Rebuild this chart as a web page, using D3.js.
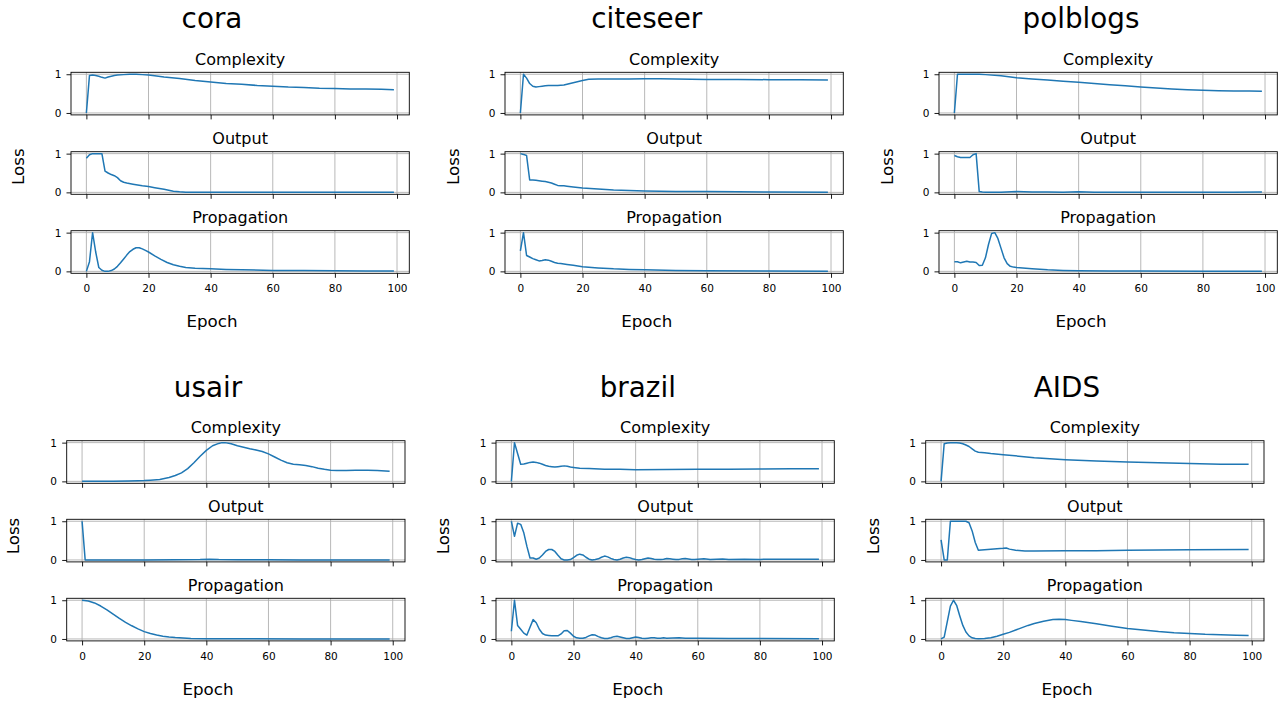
<!DOCTYPE html>
<html><head><meta charset="utf-8">
<script src="https://cdn.jsdelivr.net/npm/d3@7"></script>
<style>
body{margin:0;background:#fff}
svg{display:block;font-family:"DejaVu Sans",sans-serif}
</style>
</head><body>
<svg id="chart" width="1284" height="704"></svg>
<script>
// ---------- data ----------
const datasets = ["cora", "citeseer", "polblogs", "usair", "brazil", "AIDS"];
const panels = ["Complexity", "Output", "Propagation"];
const xTicks = [0, 20, 40, 60, 80, 100];
const yTicks = [0, 1];
const xLabel = "Epoch";
const yLabel = "Loss";

// each series: [epoch, normalised loss]
const coraComplexity = [[0,0],[1,0.97],[2,0.98],[3,0.97],[4,0.95],[5,0.92],[6,0.9],[7,0.93],[8,0.95],[9,0.97],[10,0.98],[12,0.99],[14,1.0],[16,1.0],[18,0.99],[20,0.98],[22,0.96],[25,0.93],[30,0.89],[35,0.84],[40,0.8],[45,0.76],[50,0.74],[55,0.71],[60,0.69],[65,0.67],[70,0.66],[75,0.64],[80,0.63],[85,0.62],[90,0.62],[95,0.61],[99,0.6]];
const coraOutput = [[0,0.88],[1,0.97],[2,1.0],[3,1.0],[4,1.0],[5,1.0],[6,0.55],[7,0.5],[8,0.46],[9,0.43],[10,0.38],[11,0.3],[12,0.26],[13,0.24],[15,0.21],[18,0.17],[20,0.15],[22,0.12],[25,0.08],[28,0.03],[30,0.015],[32,0.005],[35,0],[40,0],[50,0.003],[60,0.005],[70,0.003],[80,0.006],[90,0.003],[99,0.003]];
const coraPropagation = [[0,0],[1,0.25],[2,1.0],[3,0.5],[4,0.1],[5,0.03],[6,0.0],[7,0.0],[8,0.02],[9,0.06],[10,0.13],[11,0.22],[12,0.32],[13,0.42],[14,0.51],[15,0.57],[16,0.61],[17,0.61],[18,0.58],[19,0.54],[20,0.5],[22,0.4],[24,0.31],[26,0.23],[28,0.17],[30,0.13],[32,0.1],[35,0.08],[40,0.065],[45,0.05],[50,0.04],[60,0.025],[70,0.02],[80,0.015],[90,0.012],[99,0.01]];

const citeseerComplexity = [[0,0],[1,1.0],[2,0.9],[3,0.76],[4,0.69],[5,0.67],[6,0.68],[7,0.69],[8,0.7],[9,0.71],[10,0.71],[12,0.71],[14,0.72],[16,0.76],[18,0.8],[20,0.84],[22,0.87],[25,0.88],[30,0.875],[35,0.875],[40,0.885],[45,0.885],[50,0.88],[60,0.865],[70,0.865],[80,0.86],[90,0.855],[99,0.85]];
const citeseerOutput = [[0,1.0],[1,0.98],[2,0.95],[3,0.32],[4,0.32],[5,0.31],[6,0.3],[7,0.29],[8,0.28],[9,0.26],[10,0.24],[11,0.21],[12,0.18],[13,0.17],[14,0.17],[15,0.16],[17,0.14],[20,0.115],[25,0.085],[30,0.06],[35,0.045],[40,0.035],[50,0.025],[60,0.02],[70,0.015],[80,0.01],[99,0.005]];
const citeseerPropagation = [[0,0.53],[1,1.0],[2,0.41],[3,0.37],[4,0.33],[5,0.3],[6,0.27],[7,0.28],[8,0.3],[9,0.29],[10,0.26],[11,0.23],[12,0.21],[13,0.2],[15,0.18],[17,0.16],[20,0.12],[25,0.09],[30,0.065],[35,0.05],[40,0.04],[50,0.025],[60,0.015],[80,0.01],[99,0.005]];

const polblogsComplexity = [[0,0],[1,1.0],[3,1.0],[5,1.0],[8,1.0],[10,0.99],[15,0.96],[20,0.91],[25,0.88],[30,0.85],[35,0.82],[40,0.79],[45,0.76],[50,0.73],[55,0.7],[60,0.67],[65,0.645],[70,0.62],[75,0.6],[80,0.585],[85,0.575],[90,0.57],[95,0.565],[99,0.56]];
const polblogsOutput = [[0,0.95],[1,0.92],[2,0.9],[3,0.9],[4,0.9],[5,0.9],[6,0.97],[7,1.0],[8,0.02],[9,0.01],[10,0.005],[15,0.005],[20,0.02],[25,0.01],[30,0.01],[35,0.005],[40,0.015],[45,0.005],[50,0.005],[60,0.003],[70,0.005],[80,0.003],[90,0.005],[99,0.01]];
const polblogsPropagation = [[0,0.25],[1,0.25],[2,0.22],[3,0.24],[4,0.26],[5,0.24],[6,0.24],[7,0.23],[8,0.15],[9,0.16],[10,0.35],[11,0.7],[12,0.98],[13,1.0],[14,0.85],[15,0.6],[16,0.35],[17,0.2],[18,0.13],[19,0.11],[20,0.1],[25,0.07],[30,0.04],[35,0.025],[40,0.015],[50,0.01],[60,0.008],[80,0.006],[99,0.005]];

const usairComplexity = [[0,0],[5,0],[10,0.002],[15,0.008],[18,0.015],[20,0.02],[22,0.03],[25,0.05],[28,0.1],[30,0.15],[32,0.22],[34,0.33],[36,0.48],[38,0.65],[40,0.8],[42,0.92],[44,0.98],[45,1.0],[46,1.0],[48,0.97],[50,0.92],[52,0.88],[54,0.84],[56,0.81],[58,0.77],[60,0.71],[62,0.63],[64,0.55],[66,0.48],[68,0.44],[70,0.43],[72,0.41],[74,0.38],[76,0.34],[78,0.31],[80,0.29],[82,0.28],[85,0.28],[88,0.29],[90,0.29],[92,0.29],[95,0.28],[99,0.26]];
const usairOutput = [[0,1.0],[1,0.0],[10,0.0],[20,0.0],[30,0.003],[38,0.01],[41,0.02],[44,0.01],[50,0.005],[60,0.003],[70,0.002],[80,0.002],[90,0.001],[99,0.001]];
const usairPropagation = [[0,1.0],[2,0.98],[4,0.93],[6,0.85],[8,0.75],[10,0.64],[12,0.53],[14,0.43],[16,0.34],[18,0.26],[20,0.19],[22,0.14],[24,0.1],[26,0.07],[28,0.05],[30,0.035],[35,0.015],[40,0.008],[50,0.004],[70,0.002],[99,0.0]];

const brazilComplexity = [[0,0],[1,1.0],[2,0.72],[3,0.44],[4,0.45],[5,0.47],[6,0.49],[7,0.5],[8,0.49],[9,0.47],[10,0.44],[11,0.41],[12,0.39],[13,0.38],[14,0.37],[15,0.38],[16,0.39],[17,0.4],[18,0.39],[19,0.37],[20,0.36],[22,0.34],[25,0.33],[30,0.31],[35,0.31],[40,0.3],[50,0.305],[60,0.31],[70,0.315],[80,0.32],[90,0.325],[99,0.325]];
const brazilOutput = [[0,1.0],[1,0.61],[2,0.95],[3,0.92],[4,0.7],[5,0.35],[6,0.05],[7,0.05],[8,0.02],[9,0.05],[10,0.13],[11,0.22],[12,0.27],[13,0.27],[14,0.22],[15,0.12],[16,0.03],[17,0.0],[18,0.0],[19,0.01],[20,0.06],[21,0.12],[22,0.15],[23,0.13],[24,0.07],[25,0.02],[26,0.0],[27,0.01],[28,0.03],[29,0.07],[30,0.1],[31,0.08],[32,0.04],[33,0.01],[34,0.0],[35,0.02],[36,0.05],[37,0.07],[38,0.06],[39,0.03],[40,0.01],[41,0.0],[42,0.01],[43,0.03],[44,0.05],[45,0.04],[46,0.02],[47,0.01],[48,0.01],[49,0.02],[50,0.04],[51,0.03],[52,0.02],[53,0.01],[54,0.015],[55,0.03],[56,0.035],[57,0.025],[58,0.015],[59,0.01],[60,0.02],[62,0.03],[64,0.015],[66,0.02],[68,0.025],[70,0.015],[75,0.02],[80,0.015],[90,0.02],[99,0.02]];
const brazilPropagation = [[0,0.2],[1,1.0],[2,0.35],[3,0.25],[4,0.15],[5,0.1],[6,0.3],[7,0.5],[8,0.42],[9,0.25],[10,0.14],[11,0.1],[12,0.09],[13,0.08],[14,0.08],[15,0.08],[16,0.13],[17,0.21],[18,0.22],[19,0.15],[20,0.07],[21,0.03],[22,0.02],[23,0.02],[24,0.04],[25,0.08],[26,0.11],[27,0.1],[28,0.06],[29,0.03],[30,0.01],[31,0.01],[32,0.03],[33,0.06],[34,0.07],[35,0.05],[36,0.03],[37,0.01],[38,0.01],[39,0.03],[40,0.05],[41,0.04],[42,0.02],[43,0.01],[44,0.02],[45,0.03],[46,0.03],[47,0.02],[48,0.02],[49,0.03],[50,0.02],[52,0.025],[54,0.03],[56,0.02],[58,0.02],[60,0.02],[70,0.015],[80,0.01],[99,0.005]];

const aidsComplexity = [[0,0],[1,0.97],[2,0.99],[3,1.0],[4,1.0],[5,1.0],[6,0.99],[7,0.97],[8,0.94],[9,0.9],[10,0.84],[11,0.78],[12,0.75],[14,0.74],[16,0.72],[20,0.69],[25,0.65],[30,0.61],[35,0.585],[40,0.56],[50,0.525],[60,0.5],[70,0.48],[80,0.46],[90,0.445],[99,0.44]];
const aidsOutput = [[0,0.52],[1,0.0],[2,0.0],[3,1.0],[4,1.0],[5,1.0],[6,1.0],[7,1.0],[8,1.0],[9,0.96],[10,0.75],[11,0.45],[12,0.25],[13,0.26],[15,0.27],[18,0.29],[20,0.3],[21,0.31],[22,0.28],[24,0.25],[27,0.23],[30,0.23],[40,0.235],[50,0.24],[60,0.25],[70,0.26],[80,0.265],[99,0.27]];
const aidsPropagation = [[0,0.0],[1,0.05],[2,0.45],[3,0.85],[4,1.0],[5,0.87],[6,0.6],[7,0.35],[8,0.18],[9,0.08],[10,0.03],[11,0.01],[12,0.005],[14,0.01],[16,0.03],[18,0.07],[20,0.12],[22,0.17],[25,0.26],[28,0.35],[30,0.4],[33,0.46],[36,0.5],[38,0.51],[40,0.5],[42,0.48],[45,0.45],[50,0.39],[55,0.33],[60,0.27],[65,0.23],[70,0.19],[75,0.16],[80,0.14],[85,0.12],[90,0.11],[95,0.095],[99,0.09]];

const seriesByDataset = [
  [coraComplexity, coraOutput, coraPropagation],
  [citeseerComplexity, citeseerOutput, citeseerPropagation],
  [polblogsComplexity, polblogsOutput, polblogsPropagation],
  [usairComplexity, usairOutput, usairPropagation],
  [brazilComplexity, brazilOutput, brazilPropagation],
  [aidsComplexity, aidsOutput, aidsPropagation]
];

// ---------- layout ----------
const AX_W = 338.3, AX_H = 42.6;
const topRow = {tops:[72.3,151.7,230.7], lossY:166.7, titleY:28.3, epochY:327};
const botRow = {tops:[440.7,519.3,598.3], lossY:536, titleY:396.5, epochY:695};
const layout = [
  {left:71,    cx:212,   lossX:18.3,  row:topRow},
  {left:505,   cx:646.7, lossX:452.7, row:topRow},
  {left:939,   cx:1081,  lossX:886.7, row:topRow},
  {left:66.7,  cx:208,   lossX:13.3,  row:botRow},
  {left:496,   cx:637.8, lossX:443.3, row:botRow},
  {left:925.7, cx:1067,  lossX:873.3, row:botRow}
];
const LINE_COLOR = "#1f77b4";
const GRID_COLOR = "#b0b0b0";
const TICK_FONT = 10.5;

const svg = d3.select("#chart");

datasets.forEach((name, i) => {
  const L = layout[i];
  const R = L.row;
  const gGroup = svg.append("g");
  const x = d3.scaleLinear().domain([-4.95, 103.95]).range([L.left, L.left + AX_W]);

  // dataset title
  gGroup.append("text").attr("x", L.cx).attr("y", R.titleY)
    .attr("text-anchor", "middle").attr("font-size", 27.8).attr("fill", "#000").text(name);
  // x label
  gGroup.append("text").attr("x", L.cx).attr("y", R.epochY)
    .attr("text-anchor", "middle").attr("font-size", 16.7).attr("fill", "#000").text(xLabel);
  // y label
  gGroup.append("text")
    .attr("transform", `translate(${L.lossX + 6.1},${R.lossY}) rotate(-90)`)
    .attr("text-anchor", "middle").attr("font-size", 16.7).attr("fill", "#000").text(yLabel);

  panels.forEach((p, j) => {
    const top = R.tops[j];
    const y = d3.scaleLinear().domain([-0.05, 1.05]).range([top + AX_H, top]);
    const g = gGroup.append("g");

    // grid
    g.append("g").selectAll("line").data(xTicks).join("line")
      .attr("x1", d => x(d)).attr("x2", d => x(d))
      .attr("y1", top).attr("y2", top + AX_H)
      .attr("stroke", GRID_COLOR).attr("stroke-width", 0.9);
    g.append("g").selectAll("line").data(yTicks).join("line")
      .attr("x1", L.left).attr("x2", L.left + AX_W)
      .attr("y1", d => y(d)).attr("y2", d => y(d))
      .attr("stroke", GRID_COLOR).attr("stroke-width", 0.9);

    // line
    g.append("path").datum(seriesByDataset[i][j])
      .attr("d", d3.line().x(d => x(d[0])).y(d => y(d[1])))
      .attr("fill", "none").attr("stroke", LINE_COLOR).attr("stroke-width", 1.5)
      .attr("stroke-linejoin", "round").attr("stroke-linecap", "butt");

    // axes
    const xa = g.append("g").attr("transform", `translate(0,${top + AX_H})`)
      .call(d3.axisBottom(x).tickValues(xTicks).tickSize(4.5).tickSizeOuter(0).tickPadding(7)
        .tickFormat(j === 2 ? d3.format("d") : () => ""));
    const ya = g.append("g").attr("transform", `translate(${L.left},0)`)
      .call(d3.axisLeft(y).tickValues(yTicks).tickSize(4.5).tickSizeOuter(0).tickPadding(5.2)
        .tickFormat(d3.format("d")));
    [xa, ya].forEach(a => {
      a.select(".domain").remove();
      a.selectAll(".tick line").attr("stroke", "#000").attr("stroke-width", 0.9);
      a.selectAll("text").attr("font-size", TICK_FONT).attr("font-family", "DejaVu Sans, sans-serif").attr("fill", "#000");
    });

    // frame
    g.append("rect").attr("x", L.left).attr("y", top).attr("width", AX_W).attr("height", AX_H)
      .attr("fill", "none").attr("stroke", "#000").attr("stroke-width", 0.9);

    // panel title
    g.append("text").attr("x", L.left + AX_W / 2).attr("y", top - 7.6)
      .attr("text-anchor", "middle").attr("font-size", 16).attr("fill", "#000").text(p);
  });
});
</script>
</body></html>
